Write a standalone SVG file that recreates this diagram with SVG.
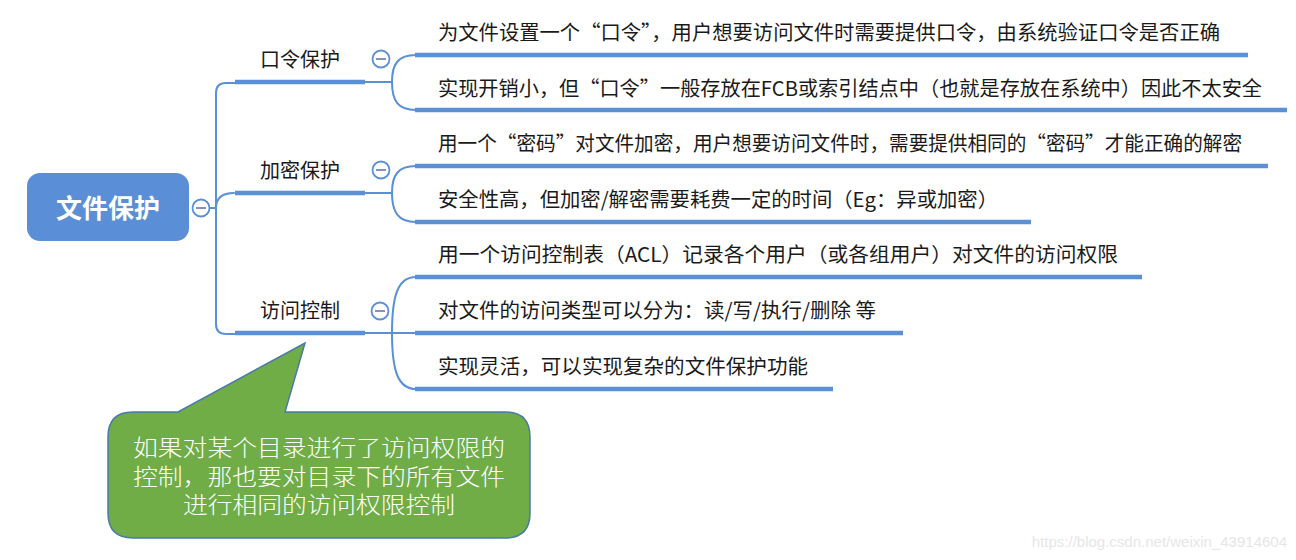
<svg xmlns="http://www.w3.org/2000/svg" width="1296" height="560" viewBox="0 0 1296 560">
<style>
.thin{fill:none;stroke:#5B8FD6;stroke-width:2;stroke-linecap:round}
.ul{stroke:#5B8FD6;stroke-width:4.5}
.t{font-family:"Noto Sans CJK SC","Liberation Sans",sans-serif;font-size:20px;fill:#1a1a1a}
.l1{font-family:"Noto Sans CJK SC","Liberation Sans",sans-serif;font-size:20px;fill:#1a1a1a;text-anchor:middle}
.cc{fill:#fff;stroke:#5B8FD6;stroke-width:1.8}
.mn{stroke:#8a8fb8;stroke-width:2}
.co{font-family:"Noto Sans CJK SC","Liberation Sans",sans-serif;font-size:23px;fill:#fff;text-anchor:middle;font-weight:300}
</style>
<rect width="1296" height="560" fill="#fff"/>
<g id="connectors">
<path class="thin" d="M210,208 H216 M216,93 Q216,83 226,83 H236 M216,324 Q216,334 226,334 H236 M216,208 Q216,193 234,193"/>
<line class="thin" x1="216" y1="93" x2="216" y2="324"/>
<path class="thin" d="M364,82 H392 M392,82 C392,64 398,55 416,55 M392,82 C392,101 398,110 416,110"/>
<path class="thin" d="M364,193 H392 M392,193 C392,175 398,166 416,166 M392,193 C392,212 398,222 416,222"/>
<path class="thin" d="M364,333 H416 M392,333 C392,295 398,277 416,277 M392,333 C392,371 398,389 416,389"/>
</g>
<g id="root">
<rect x="27" y="173" width="162" height="68" rx="13" fill="#5A8FD7"/>
<text x="108" y="218" font-family="'Noto Sans CJK SC','Liberation Sans',sans-serif" font-size="26" font-weight="bold" fill="#fff" text-anchor="middle">文件保护</text>
<circle class="cc" cx="201" cy="208" r="8.5"/><line class="mn" x1="196" y1="208" x2="206" y2="208"/>
</g>
<g id="n1">
<line class="ul" x1="235" y1="82" x2="365" y2="82"/>
<text class="l1" x="300" y="67">口令保护</text>
<circle class="cc" cx="381" cy="59" r="8.5"/><line class="mn" x1="376" y1="59" x2="386" y2="59"/>
</g>
<g id="n2">
<line class="ul" x1="235" y1="193" x2="365" y2="193"/>
<text class="l1" x="300" y="178">加密保护</text>
<circle class="cc" cx="381" cy="170" r="8.5"/><line class="mn" x1="376" y1="170" x2="386" y2="170"/>
</g>
<g id="n3">
<line class="ul" x1="235" y1="333" x2="365" y2="333"/>
<text class="l1" x="300" y="318">访问控制</text>
<circle class="cc" cx="380" cy="311" r="8.5"/><line class="mn" x1="375" y1="311" x2="385" y2="311"/>
</g>
<g id="c1"><line class="ul" x1="415" y1="55" x2="1248" y2="55"/><text class="t" x="438" y="40" textLength="782" lengthAdjust="spacingAndGlyphs">为文件设置一个“口令”，用户想要访问文件时需要提供口令，由系统验证口令是否正确</text></g>
<g id="c2"><line class="ul" x1="415" y1="110" x2="1287" y2="110"/><text class="t" x="438" y="96" textLength="824" lengthAdjust="spacingAndGlyphs">实现开销小，但“口令”一般存放在FCB或索引结点中（也就是存放在系统中）因此不太安全</text></g>
<g id="c3"><line class="ul" x1="415" y1="166" x2="1268" y2="166"/><text class="t" x="438" y="151" textLength="804" lengthAdjust="spacingAndGlyphs">用一个“密码”对文件加密，用户想要访问文件时，需要提供相同的“密码”才能正确的解密</text></g>
<g id="c4"><line class="ul" x1="415" y1="222" x2="1031" y2="222"/><text class="t" x="438" y="207" textLength="560" lengthAdjust="spacingAndGlyphs">安全性高，但加密/解密需要耗费一定的时间（Eg：异或加密）</text></g>
<g id="c5"><line class="ul" x1="415" y1="277" x2="1142" y2="277"/><text class="t" x="438" y="262" textLength="680" lengthAdjust="spacingAndGlyphs">用一个访问控制表（ACL）记录各个用户（或各组用户）对文件的访问权限</text></g>
<g id="c6"><line class="ul" x1="415" y1="333" x2="903" y2="333"/><text class="t" x="438" y="318" textLength="438" lengthAdjust="spacingAndGlyphs">对文件的访问类型可以分为：读/写/执行/删除 等</text></g>
<g id="c7"><line class="ul" x1="415" y1="389" x2="833" y2="389"/><text class="t" x="438" y="374" textLength="370" lengthAdjust="spacingAndGlyphs">实现灵活，可以实现复杂的文件保护功能</text></g>
<g id="callout">
<path d="M133,412 H178 L305,343 L285,412 H505 Q530,412 530,437 V513 Q530,538 505,538 H133 Q108,538 108,513 V437 Q108,412 133,412 Z" fill="#70AD47" stroke="#4A7AA8" stroke-width="1.5"/>
<text class="co" x="319" y="456" textLength="372" lengthAdjust="spacingAndGlyphs">如果对某个目录进行了访问权限的</text>
<text class="co" x="319" y="485" textLength="372" lengthAdjust="spacingAndGlyphs">控制，那也要对目录下的所有文件</text>
<text class="co" x="319" y="513" textLength="272" lengthAdjust="spacingAndGlyphs">进行相同的访问权限控制</text>
</g>
<text x="1287" y="547" font-family="'Liberation Sans',sans-serif" font-size="15" fill="#e6e6e6" text-anchor="end">https://blog.csdn.net/weixin_43914604</text>
</svg>
